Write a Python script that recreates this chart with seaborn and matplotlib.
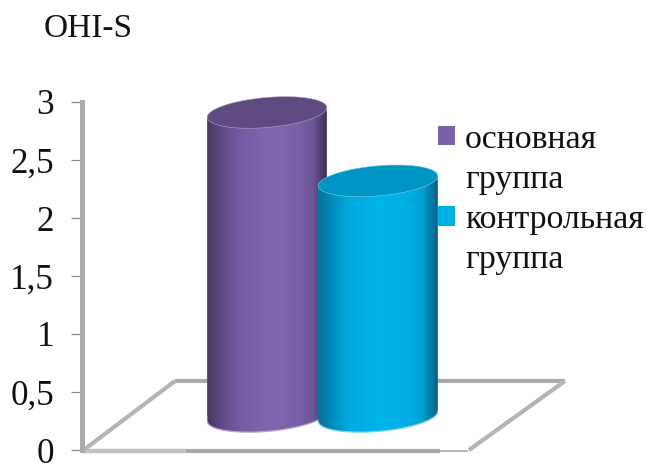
import numpy as np
import matplotlib
matplotlib.use("Agg")
import matplotlib.pyplot as plt
import seaborn as sns
from matplotlib.colors import LinearSegmentedColormap
from matplotlib.path import Path
from matplotlib.patches import Polygon
from matplotlib.transforms import Affine2D, IdentityTransform

categories = ["основная группа", "контрольная группа"]
values = [2.91, 2.32]
y_ticks = [0, 0.5, 1, 1.5, 2, 2.5, 3]
y_labels = ["0", "0,5", "1", "1,5", "2", "2,5", "3"]
title = "OHI-S"
legend_lines = ["основная", "группа", "контрольная", "группа"]

FONT = "Liberation Serif"
colors = ["#7b62a8", "#00b0e6"]
top_colors = ["#5f4a82", "#0094c4"]
rim_colors = ["#b9a9d2", "#7fd3ee"]
grads = [["#463660", "#5f4b85", "#7459a0", "#7a60a8", "#8066ac", "#7f65ab", "#7a60a8", "#6f5899", "#3d2f58"],
         ["#0a6f96", "#008fbf", "#00a8de", "#00aee4", "#00b4ea", "#00b2e8", "#00aee4", "#009fd2", "#0a5f84"]]

sns.set_theme(style="white")
plt.rcParams["font.family"] = [FONT, "DejaVu Serif"]

fig = plt.figure(figsize=(6.46, 4.65), dpi=100)
ax = fig.add_axes([82 / 646, 15 / 465, 488 / 646, 348 / 465])
sns.barplot(x=categories, y=values, hue=categories, palette=colors, width=1.08,
            dodge=False, legend=False, ax=ax, saturation=1, linewidth=0)

ax.set_xlim(-1.667, 2.73)
ax.set_ylim(0, 3)
ax.patch.set_alpha(0)
px = Affine2D().scale(1, -1).translate(0, 465)  # reference pixels -> display

# axis styling
for s in ["top", "right", "bottom"]:
    ax.spines[s].set_visible(False)
ax.spines["left"].set_color("#a9abad")
ax.spines["left"].set_linewidth(3.6)
ax.set_xticks([])
ax.set_xlabel("")
ax.set_ylabel("")
ax.set_yticks(y_ticks)
ax.set_yticklabels(y_labels, fontsize=25.2, color="#111111")
ax.tick_params(axis="y", left=True, length=8, width=0.9, color="#8a8a8a", pad=12)
for lab in ax.get_yticklabels():
    lab.set_verticalalignment("center_baseline")

# floor
floor = [((82, 451), (186, 451), "#c2c2c2", 3.2), ((186, 451), (440, 451), "#a8a8a8", 3.0),
         ((440, 451), (468, 451), "#a8a8a8", 1.2), ((175, 381), (565, 381), "#a9a9a9", 3.0),
         ((85, 449), (175, 381), "#b4b4b4", 3.0), ((469, 450), (565, 381), "#b4b4b4", 3.0)]
for p, q, c, lw in floor:
    ax.plot([p[0], q[0]], [p[1], q[1]], color=c, lw=lw, transform=px + IdentityTransform(),
            zorder=1, clip_on=False, solid_capstyle="butt")

# turn each bar into a cylinder
base = 0.29
tilt = np.deg2rad(5)
minor = 15.0
for i, cont in enumerate(ax.containers):
    bar = cont[0]
    x0, w = bar.get_x(), bar.get_width()
    top = bar.get_height()
    bar.set_y(base)
    bar.set_height(top - base)
    (lx, by), (rx, ty) = ax.transData.transform([(x0, base), (x0 + w, top)])
    a, cx = (rx - lx) / 2, (rx + lx) / 2

    def ell(cy, t):
        ex, ey = a * np.cos(t), minor * np.sin(t)
        return np.c_[cx + ex * np.cos(tilt) - ey * np.sin(tilt),
                     cy + ex * np.sin(tilt) + ey * np.cos(tilt)]

    t1 = np.linspace(0, np.pi, 60)
    t2 = np.linspace(np.pi, 2 * np.pi, 60)
    pts = np.vstack([ell(ty, t1), ell(by, t2)])
    path = Path(np.vstack([pts, pts[:1]]), closed=True)
    z = 2 + i
    bar.set_zorder(z)
    bar.set_clip_path(path, IdentityTransform())
    cmap = LinearSegmentedColormap.from_list(f"g{i}", grads[i])
    im = ax.imshow(np.linspace(0, 1, 256)[None, :], cmap=cmap, aspect="auto",
                   extent=(x0, x0 + w, base - 0.3, top + 0.3), zorder=z + 0.1,
                   interpolation="bilinear")
    im.set_clip_box(fig.bbox)
    im.set_clip_path(path, IdentityTransform())
    ax.plot(*ell(by, t2).T, color=rim_colors[i], lw=0.9, transform=IdentityTransform(),
            zorder=z + 0.2, clip_on=False)
    ax.add_patch(Polygon(ell(ty, np.linspace(0, 2 * np.pi, 120)), closed=True, fc=top_colors[i],
                         ec=rim_colors[i], lw=0.4, transform=IdentityTransform(),
                         zorder=z + 0.3, clip_on=False))

ax.set_xlim(-1.667, 2.73)
ax.set_ylim(0, 3)

# legend: one row per line of text, swatches on the first line of each label
blank = plt.Rectangle((0, 0), 1, 1, fc="none", ec="none")
handles = [ax.containers[0][0], blank, ax.containers[1][0], blank]
leg = fig.legend(handles, legend_lines, loc="upper left", frameon=False,
                 bbox_to_anchor=(438 / 646, 1 - 124 / 465), bbox_transform=fig.transFigure,
                 borderpad=0, borderaxespad=0, fontsize=24.4, handlelength=0.5, handleheight=0.5,
                 handletextpad=0.3, labelspacing=0.29)
for t in leg.get_texts():
    t.set_color("#111111")

fig.text(44 / 646, 1 - 37 / 465, title, fontsize=24, color="#111111", family=FONT,
         ha="left", va="baseline")

fig.savefig("out.png", dpi=100)
